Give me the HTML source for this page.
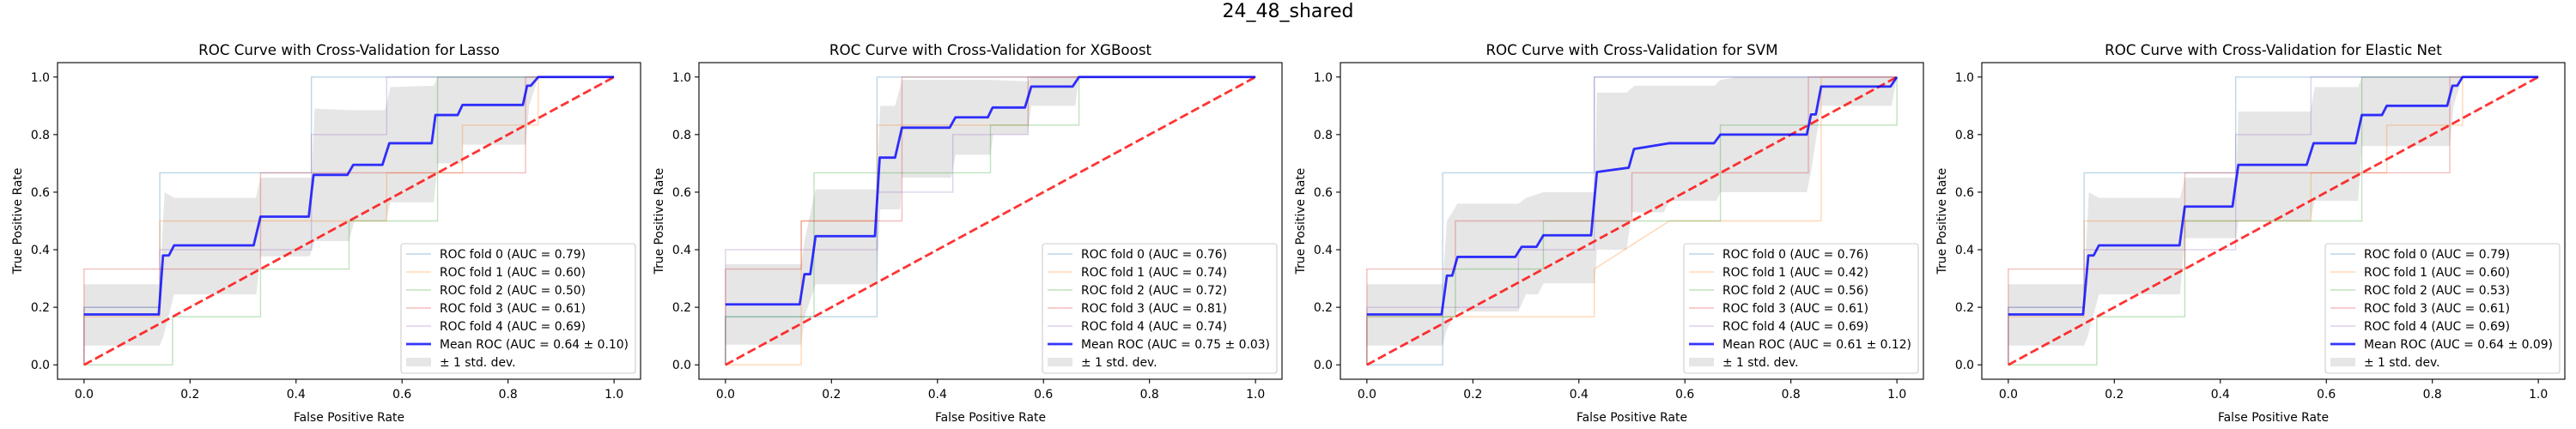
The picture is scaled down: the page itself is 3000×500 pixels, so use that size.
<!DOCTYPE html>
<html><head><meta charset="utf-8"><style>
html,body{margin:0;padding:0;background:#fff;}
svg{display:block;font-family:"DejaVu Sans","Liberation Sans",sans-serif;}
</style></head><body>
<svg id="fig" xmlns="http://www.w3.org/2000/svg" width="3000" height="500" viewBox="0 0 3000 500">
<rect x="0" y="0" width="3000" height="500" fill="#fff"/>
<text x="1500" y="20" font-size="22" text-anchor="middle" fill="#000">24_48_shared</text>
</svg>
<script>
// ---------- Data ----------
const panelTitles = ["ROC Curve with Cross-Validation for Lasso","ROC Curve with Cross-Validation for XGBoost","ROC Curve with Cross-Validation for SVM","ROC Curve with Cross-Validation for Elastic Net"];
const tickValues = [0.0,0.2,0.4,0.6,0.8,1.0];
const tickLabels = ["0.0","0.2","0.4","0.6","0.8","1.0"];

// Lasso
const lassoFold0 = [[0,0],[0,0.2],[0.143,0.2],[0.143,0.667],[0.429,0.667],[0.429,1],[1,1]];
const lassoFold1 = [[0,0],[0,0.167],[0.143,0.167],[0.143,0.5],[0.571,0.5],[0.571,0.667],[0.714,0.667],[0.714,0.833],[0.857,0.833],[0.857,1],[1,1]];
const lassoFold2 = [[0,0],[0.167,0],[0.167,0.167],[0.333,0.167],[0.333,0.333],[0.5,0.333],[0.5,0.5],[0.667,0.5],[0.667,1],[1,1]];
const lassoFold3 = [[0,0],[0,0.333],[0.333,0.333],[0.333,0.667],[0.833,0.667],[0.833,1],[1,1]];
const lassoFold4 = [[0,0],[0,0.2],[0.143,0.2],[0.143,0.4],[0.429,0.4],[0.429,0.8],[0.571,0.8],[0.571,1],[1,1]];
const lassoAUC = ["0.79","0.60","0.50","0.61","0.69"];
const lassoMeanAUC = "0.64 ± 0.10";
const lassoMean = [[0,0.175],[0.141,0.175],[0.149,0.38],[0.16,0.38],[0.17,0.415],[0.32,0.415],[0.333,0.515],[0.424,0.515],[0.433,0.66],[0.497,0.66],[0.508,0.695],[0.563,0.695],[0.576,0.77],[0.656,0.77],[0.663,0.868],[0.705,0.868],[0.714,0.903],[0.828,0.903],[0.836,0.97],[0.843,0.97],[0.857,1],[1,1]];
const lassoUpper = [[0,0.28],[0.143,0.28],[0.152,0.6],[0.17,0.58],[0.324,0.58],[0.333,0.65],[0.43,0.65],[0.435,0.89],[0.5,0.885],[0.568,0.885],[0.578,0.965],[0.66,0.97],[0.667,1],[1,1]];
const lassoLower = [[0,0.067],[0.143,0.067],[0.15,0.1],[0.17,0.245],[0.325,0.245],[0.333,0.377],[0.426,0.377],[0.435,0.43],[0.5,0.43],[0.51,0.5],[0.57,0.5],[0.578,0.565],[0.66,0.565],[0.667,0.7],[0.714,0.7],[0.714,0.765],[0.833,0.765],[0.84,0.9],[0.857,1],[1,1]];

// XGBoost
const xgbFold0 = [[0,0],[0,0.167],[0.286,0.167],[0.286,1],[1,1]];
const xgbFold1 = [[0,0],[0.143,0],[0.143,0.5],[0.286,0.5],[0.286,0.833],[0.571,0.833],[0.571,1],[1,1]];
const xgbFold2 = [[0,0],[0,0.167],[0.167,0.167],[0.167,0.667],[0.5,0.667],[0.5,0.833],[0.667,0.833],[0.667,1],[1,1]];
const xgbFold3 = [[0,0],[0,0.333],[0.143,0.333],[0.143,0.5],[0.333,0.5],[0.333,1],[1,1]];
const xgbFold4 = [[0,0],[0,0.4],[0.286,0.4],[0.286,0.6],[0.429,0.6],[0.429,0.8],[0.571,0.8],[0.571,1],[1,1]];
const xgbAUC = ["0.76","0.74","0.72","0.81","0.74"];
const xgbMeanAUC = "0.75 ± 0.03";
const xgbMean = [[0,0.21],[0.14,0.21],[0.149,0.315],[0.16,0.315],[0.17,0.447],[0.282,0.447],[0.291,0.72],[0.32,0.72],[0.333,0.824],[0.423,0.824],[0.434,0.86],[0.495,0.86],[0.504,0.894],[0.565,0.894],[0.577,0.967],[0.655,0.967],[0.667,1],[1,1]];
const xgbUpper = [[0,0.35],[0.143,0.35],[0.15,0.44],[0.17,0.61],[0.285,0.61],[0.292,0.9],[0.32,0.9],[0.333,0.99],[0.5,0.99],[0.57,0.985],[0.577,1],[1,1]];
const xgbLower = [[0,0.07],[0.143,0.07],[0.15,0.17],[0.17,0.28],[0.285,0.28],[0.292,0.54],[0.33,0.54],[0.333,0.65],[0.426,0.65],[0.434,0.73],[0.5,0.73],[0.505,0.8],[0.57,0.8],[0.577,0.9],[0.66,0.9],[0.667,1],[1,1]];

// SVM
const svmFold0 = [[0,0],[0.143,0],[0.143,0.667],[0.429,0.667],[0.429,1],[1,1]];
const svmFold1 = [[0,0],[0,0.167],[0.429,0.167],[0.429,0.333],[0.571,0.5],[0.857,0.5],[0.857,1],[1,1]];
const svmFold2 = [[0,0],[0,0.167],[0.167,0.167],[0.167,0.333],[0.333,0.333],[0.333,0.5],[0.667,0.5],[0.667,0.833],[1,0.833],[1,1]];
const svmFold3 = [[0,0],[0,0.333],[0.167,0.333],[0.167,0.5],[0.5,0.5],[0.5,0.667],[0.833,0.667],[0.833,1],[1,1]];
const svmFold4 = [[0,0],[0,0.2],[0.286,0.2],[0.286,0.4],[0.429,0.4],[0.429,1],[1,1]];
const svmAUC = ["0.76","0.42","0.56","0.61","0.69"];
const svmMeanAUC = "0.61 ± 0.12";
const svmMean = [[0,0.175],[0.141,0.175],[0.151,0.31],[0.161,0.31],[0.171,0.375],[0.28,0.375],[0.292,0.41],[0.32,0.41],[0.333,0.45],[0.423,0.45],[0.434,0.67],[0.494,0.685],[0.504,0.75],[0.571,0.77],[0.655,0.77],[0.667,0.8],[0.83,0.8],[0.838,0.87],[0.847,0.87],[0.857,0.967],[0.988,0.967],[1,1]];
const svmUpper = [[0,0.28],[0.143,0.28],[0.151,0.5],[0.171,0.56],[0.286,0.56],[0.3,0.58],[0.333,0.6],[0.43,0.6],[0.434,0.946],[0.49,0.946],[0.505,0.97],[0.656,0.97],[0.667,0.99],[0.7,1],[1,1]];
const svmLower = [[0,0.067],[0.143,0.067],[0.15,0.12],[0.17,0.185],[0.286,0.185],[0.3,0.245],[0.323,0.245],[0.333,0.283],[0.43,0.283],[0.434,0.4],[0.49,0.4],[0.5,0.53],[0.56,0.53],[0.571,0.57],[0.66,0.57],[0.667,0.6],[0.83,0.6],[0.838,0.67],[0.857,0.9],[0.99,0.9],[1,1]];

// Elastic Net
const enFold0 = [[0,0],[0,0.2],[0.143,0.2],[0.143,0.667],[0.429,0.667],[0.429,1],[1,1]];
const enFold1 = [[0,0],[0,0.167],[0.143,0.167],[0.143,0.5],[0.571,0.5],[0.571,0.667],[0.714,0.667],[0.714,0.833],[0.857,0.833],[0.857,1],[1,1]];
const enFold2 = [[0,0],[0.167,0],[0.167,0.167],[0.333,0.167],[0.333,0.5],[0.667,0.5],[0.667,1],[1,1]];
const enFold3 = [[0,0],[0,0.333],[0.333,0.333],[0.333,0.667],[0.833,0.667],[0.833,1],[1,1]];
const enFold4 = [[0,0],[0,0.2],[0.143,0.2],[0.143,0.4],[0.429,0.4],[0.429,0.8],[0.571,0.8],[0.571,1],[1,1]];
const enAUC = ["0.79","0.60","0.53","0.61","0.69"];
const enMeanAUC = "0.64 ± 0.09";
const enMean = [[0,0.175],[0.141,0.175],[0.151,0.38],[0.161,0.38],[0.171,0.415],[0.323,0.415],[0.333,0.55],[0.423,0.55],[0.434,0.695],[0.563,0.695],[0.576,0.77],[0.655,0.77],[0.667,0.868],[0.705,0.868],[0.714,0.9],[0.828,0.9],[0.838,0.97],[0.847,0.97],[0.857,1],[1,1]];
const enUpper = [[0,0.28],[0.143,0.28],[0.152,0.6],[0.171,0.58],[0.324,0.58],[0.333,0.65],[0.43,0.65],[0.434,0.88],[0.57,0.88],[0.578,0.965],[0.66,0.965],[0.667,1],[1,1]];
const enLower = [[0,0.067],[0.143,0.067],[0.15,0.1],[0.171,0.245],[0.324,0.245],[0.333,0.44],[0.43,0.44],[0.434,0.5],[0.57,0.5],[0.578,0.57],[0.66,0.57],[0.667,0.76],[0.833,0.76],[0.84,0.9],[0.857,1],[1,1]];

const panels = [
  {folds:[lassoFold0,lassoFold1,lassoFold2,lassoFold3,lassoFold4],auc:lassoAUC,meanAUC:lassoMeanAUC,mean:lassoMean,upper:lassoUpper,lower:lassoLower},
  {folds:[xgbFold0,xgbFold1,xgbFold2,xgbFold3,xgbFold4],auc:xgbAUC,meanAUC:xgbMeanAUC,mean:xgbMean,upper:xgbUpper,lower:xgbLower},
  {folds:[svmFold0,svmFold1,svmFold2,svmFold3,svmFold4],auc:svmAUC,meanAUC:svmMeanAUC,mean:svmMean,upper:svmUpper,lower:svmLower},
  {folds:[enFold0,enFold1,enFold2,enFold3,enFold4],auc:enAUC,meanAUC:enMeanAUC,mean:enMean,upper:enUpper,lower:enLower}
];

// ---------- Rendering ----------
const NS = "http://www.w3.org/2000/svg";
const svg = document.getElementById('fig');
const foldColors = ["#1f77b4","#ff7f0e","#2ca02c","#d62728","#9467bd"];
const AX_W = 679, AX_T = 73, AX_B = 442, AX_H = AX_B - AX_T;
const axLefts = [67, 814, 1561, 2308];

function mk(tag, attrs, parent){
  const e = document.createElementNS(NS, tag);
  for (const k in attrs) e.setAttribute(k, attrs[k]);
  parent.appendChild(e);
  return e;
}

panels.forEach((p, pi) => {
  const L = axLefts[pi];
  const sx = v => L + (v + 0.05) / 1.1 * AX_W;
  const sy = v => AX_B - (v + 0.05) / 1.1 * AX_H;
  const pts = arr => arr.map(d => sx(d[0]).toFixed(2) + "," + sy(d[1]).toFixed(2)).join(" ");

  const g = mk('g', {}, svg);
  
  

  const clipId = 'clip' + pi;
  const cp = mk('clipPath', {id: clipId}, g);
  mk('rect', {x: L, y: AX_T, width: AX_W, height: AX_H}, cp);
  const plot = mk('g', {'clip-path': 'url(#' + clipId + ')'}, g);

  const band = mk('polygon', {points: pts(p.upper.concat(p.lower.slice().reverse())), fill: '#808080', 'fill-opacity': 0.2, stroke: 'none'}, plot);
  
  

  p.folds.forEach((f, fi) => {
    const fl = mk('polyline', {points: pts(f), fill: 'none', stroke: foldColors[fi], 'stroke-width': 1.4, 'stroke-opacity': 0.3}, plot);
    
    
  });

  const ch = mk('line', {x1: sx(0), y1: sy(0), x2: sx(1), y2: sy(1), stroke: '#ff0000', 'stroke-opacity': 0.8, 'stroke-width': 2.8, 'stroke-dasharray': '10.3,4.4'}, plot);
  
  

  const mn = mk('polyline', {points: pts(p.mean), fill: 'none', stroke: '#0000ff', 'stroke-opacity': 0.8, 'stroke-width': 2.8, 'stroke-linejoin': 'round'}, plot);
  
  

  const fr = mk('rect', {x: L, y: AX_T, width: AX_W, height: AX_H, fill: 'none', stroke: '#000', 'stroke-width': 1.1}, g);
  
  

  tickValues.forEach((t, ti) => {
    const X = sx(t);
    mk('line', {x1: X, y1: AX_B, x2: X, y2: AX_B + 4.9, stroke: '#000', 'stroke-width': 1.1}, g);
    const xt = mk('text', {x: X, y: AX_B + 22, 'font-size': 13.9, 'text-anchor': 'middle', fill: '#000'}, g);
    xt.textContent = tickLabels[ti];
    
    
    const Y = sy(t);
    mk('line', {x1: L - 4.9, y1: Y, x2: L, y2: Y, stroke: '#000', 'stroke-width': 1.1}, g);
    const yt = mk('text', {x: L - 9, y: Y + 5, 'font-size': 13.9, 'text-anchor': 'end', fill: '#000'}, g);
    yt.textContent = tickLabels[ti];
    
    
  });

  const ti = mk('text', {x: L + AX_W / 2, y: AX_T - 9, 'font-size': 16.7, 'text-anchor': 'middle', fill: '#000'}, g);
  ti.textContent = panelTitles[pi];
  
  
  const xl = mk('text', {x: L + AX_W / 2, y: 491, 'font-size': 13.9, 'text-anchor': 'middle', fill: '#000'}, g);
  xl.textContent = 'False Positive Rate';
  
  
  const yc = (AX_T + AX_B) / 2, yx = L - 42;
  const yl = mk('text', {x: yx, y: yc, 'font-size': 13.9, 'text-anchor': 'middle', fill: '#000', transform: 'rotate(-90 ' + yx + ' ' + yc + ')'}, g);
  yl.textContent = 'True Positive Rate';
  
  

  const LW = 273, LH = 151;
  const lx = L + AX_W - 6 - LW, ly = AX_B - 7 - LH;
  const lg = mk('g', {}, g);
  
  
  mk('rect', {x: lx, y: ly, width: LW, height: LH, rx: 3, fill: '#fff', 'fill-opacity': 0.8, stroke: '#cccccc', 'stroke-width': 1.1}, lg);
  const labels = p.auc.map((a, i) => 'ROC fold ' + i + ' (AUC = ' + a + ')');
  labels.push('Mean ROC (AUC = ' + p.meanAUC + ')');
  labels.push('± 1 std. dev.');
  labels.forEach((lab, i) => {
    const cy = ly + 12 + i * 21;
    const ent = mk('g', {}, lg);
    
    
    if (i < 5) {
      mk('line', {x1: lx + 6, y1: cy, x2: lx + 35, y2: cy, stroke: foldColors[i], 'stroke-opacity': 0.3, 'stroke-width': 1.4}, ent);
    } else if (i === 5) {
      mk('line', {x1: lx + 6, y1: cy, x2: lx + 35, y2: cy, stroke: '#0000ff', 'stroke-opacity': 0.8, 'stroke-width': 2.8}, ent);
    } else {
      mk('rect', {x: lx + 6, y: cy - 5, width: 29, height: 10, fill: '#808080', 'fill-opacity': 0.2}, ent);
    }
    const tx = mk('text', {x: lx + 45, y: cy + 5, 'font-size': 13.9, fill: '#000'}, ent);
    tx.textContent = lab;
  });
});
</script>
</body></html>
